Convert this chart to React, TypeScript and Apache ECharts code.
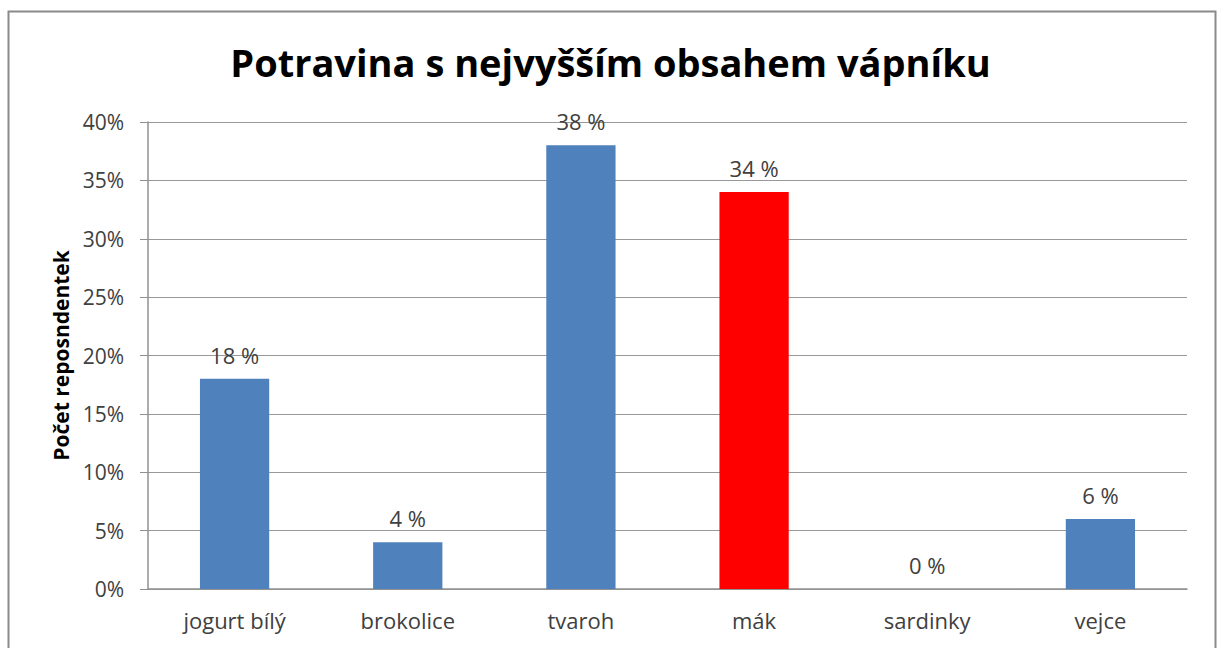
import React, { useEffect, useRef } from "react";
import * as echarts from "echarts";

const categories = ["jogurt bílý", "brokolice", "tvaroh", "mák", "sardinky", "vejce"];
const values = [18, 4, 38, 34, 0, 6];
const barColors = ["#4F81BD", "#4F81BD", "#4F81BD", "#FF0000", "#4F81BD", "#4F81BD"];
const titleText = "Potravina s nejvyšším obsahem vápníku";
const yAxisName = "Počet reposndentek";

const FONT = "'Open Sans', 'Noto Sans', sans-serif";

export default function App() {
  const ref = useRef<HTMLDivElement>(null);
  useEffect(() => {
    if (!ref.current) return;
    const chart = echarts.init(ref.current, null, { renderer: "svg" });
    chart.setOption({
      animation: false,
      backgroundColor: "#ffffff",
      title: {
        text: titleText,
        left: "center",
        top: 38,
        textStyle: { fontFamily: FONT, fontSize: 38, fontWeight: "bold", color: "#000" },
      },
      graphic: [
        {
          type: "rect",
          shape: { x: 8.5, y: 11.5, width: 1207, height: 660 },
          style: { fill: "none", stroke: "#8a8a8a", lineWidth: 2 },
          silent: true,
        },
      ],
      grid: { left: 148, right: 34, top: 122, bottom: 59 },
      xAxis: {
        type: "category",
        data: categories,
        axisLine: { show: true, lineStyle: { color: "#909090", width: 1.5 } },
        axisTick: { show: false },
        axisLabel: { fontFamily: FONT, fontSize: 22, color: "#404040", margin: 20 },
      },
      yAxis: {
        type: "value",
        min: 0,
        max: 40,
        interval: 5,
        name: yAxisName,
        nameLocation: "middle",
        nameGap: 75,
        nameTextStyle: { fontFamily: FONT, fontSize: 21, fontWeight: "bold", color: "#000" },
        axisLine: { show: true, lineStyle: { color: "#909090", width: 1.5 } },
        axisTick: { show: true, length: 8, lineStyle: { color: "#909090" } },
        axisLabel: { fontFamily: FONT, fontSize: 21, color: "#404040", margin: 24, formatter: "{value}%" },
        splitLine: { show: true, lineStyle: { color: "#999999", width: 1.2 } },
      },
      series: [
        {
          type: "bar",
          barWidth: "40%",
          data: values.map((v, i) => ({ value: v, itemStyle: { color: barColors[i] } })),
          label: {
            show: true,
            position: "top",
            distance: 13,
            formatter: (p: any) => `${p.value} %`,
            fontFamily: FONT,
            fontSize: 22,
            color: "#404040",
          },
        },
      ],
    });
    return () => chart.dispose();
  }, []);
  return (
    <div
      ref={ref}
      style={{ position: "fixed", left: 0, top: 0, width: 1221, height: 648 }}
    />
  );
}
